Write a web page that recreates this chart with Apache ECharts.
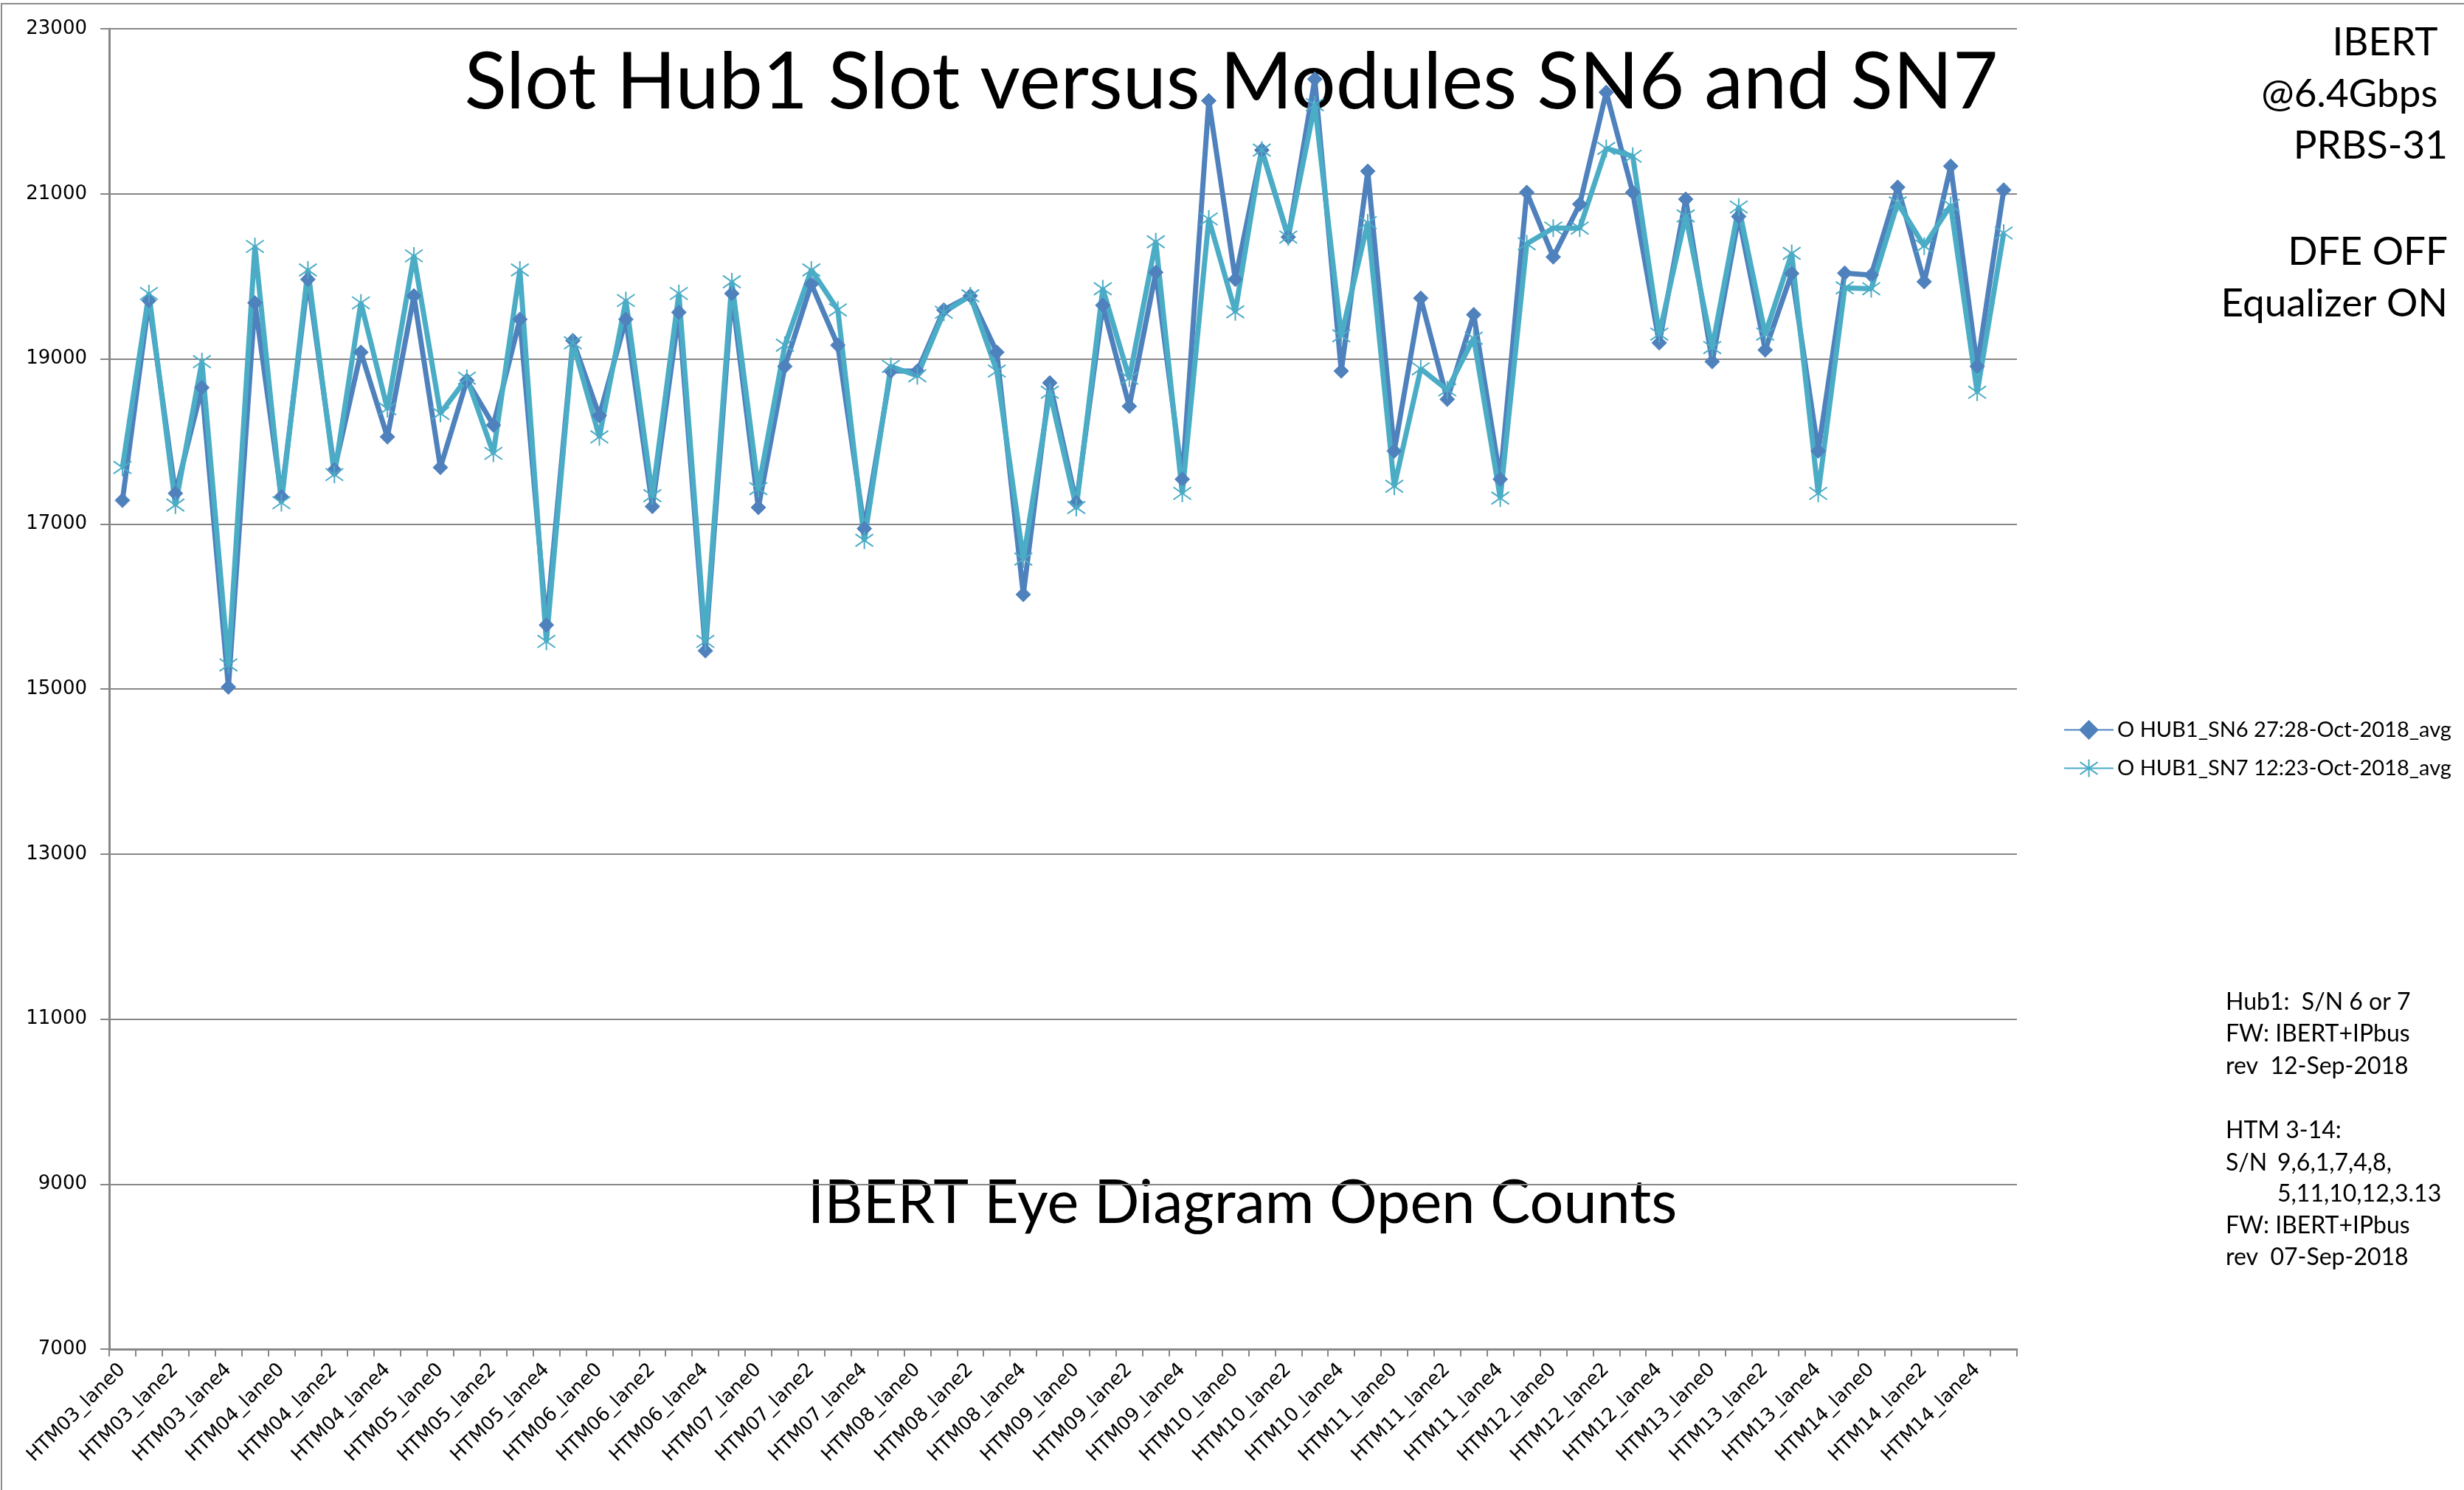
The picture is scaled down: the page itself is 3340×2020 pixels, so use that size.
<!DOCTYPE html>
<html>
<head>
<meta charset="UTF-8">
<title>Slot Hub1 Slot versus Modules SN6 and SN7</title>
<script src="https://cdn.jsdelivr.net/npm/echarts@6.0.0/dist/echarts.min.js"></script>
<style>
  html, body { margin: 0; padding: 0; background: #fff; }
  #chart { width: 3340px; height: 2020px; }
</style>
</head>
<body>
<div id="chart"></div>
<script type="text/javascript">
// modules and lanes -> category names
var modules = ['HTM03', 'HTM04', 'HTM05', 'HTM06', 'HTM07', 'HTM08', 'HTM09', 'HTM10', 'HTM11', 'HTM12', 'HTM13', 'HTM14'];
var lanes = ['lane0', 'lane1', 'lane2', 'lane3', 'lane4', 'lane5'];

var seriesNames = ['O HUB1_SN6 27:28-Oct-2018_avg', 'O HUB1_SN7 12:23-Oct-2018_avg'];

// eye diagram open counts
var sn6 = [
  17285, 19707, 17370, 18652, 15023, 19678, 17330, 19963, 17655, 19080,
  18054, 19764, 17684, 18738, 18197, 19479, 15775, 19222, 18311, 19479,
  17211, 19564, 15462, 19792, 17199, 18909, 19906, 19165, 16943, 18852,
  18852, 19593, 19764, 19080, 16145, 18709, 17256, 19650, 18425, 20048,
  17541, 22128, 19963, 21530, 20476, 22390, 18852, 21274, 17883, 19735,
  18510, 19536, 17541, 21017, 20235, 20875, 22230, 21017, 19194, 20935,
  18966, 20725, 19108, 20035, 17883, 20040, 20015, 21080, 19935, 21335,
  18909, 21046
];
var sn7 = [
  17684, 19792, 17228, 18966, 15291, 20362, 17256, 20077, 17598, 19678,
  18396, 20248, 18339, 18766, 17855, 20077, 15576, 19194, 18054, 19707,
  17342, 19792, 15576, 19934, 17427, 19165, 20077, 19593, 16801, 18909,
  18795, 19564, 19764, 18852, 16573, 18595, 17199, 19849, 18766, 20419,
  17370, 20695, 19570, 21530, 20476, 22080, 19279, 20650, 17456, 18880,
  18624, 19251, 17313, 20395, 20585, 20585, 21550, 21455, 19300, 20732,
  19137, 20840, 19300, 20278, 17370, 19860, 19850, 20890, 20366, 20860,
  18595, 20525
];

var rightNotes = ['IBERT ', '@6.4Gbps ', 'PRBS-31', 'DFE OFF', 'Equalizer ON'];
var hubNotes = ['Hub1:  S/N 6 or 7', 'FW: IBERT+IPbus', 'rev  12-Sep-2018', 'HTM 3-14:', 'S/N', '5,11,10,12,3.13', 'FW: IBERT+IPbus', 'rev  07-Sep-2018'];
var snList = '9,6,1,7,4,8,';

var categories = [];
for (var m = 0; m < modules.length; m++) {
  for (var l = 0; l < lanes.length; l++) {
    categories.push(modules[m] + '_' + lanes[l]);
  }
}

var blue = '#4F81BD';
var teal = '#4BACC6';
var gridGray = '#878787';
var starPath = 'path://M10,0L10,20M0,3L20,17M0,17L20,3';

var myChart = echarts.init(document.getElementById('chart'));

function txt(s, x, y, font, align) {
  return {
    type: 'text', x: x, y: y, silent: true,
    style: { text: s, font: font, fill: '#000', align: align, verticalAlign: 'middle' }
  };
}

var graphics = [
  { type: 'rect', silent: true, shape: { x: 2, y: 5, width: 3400, height: 2100 },
    style: { fill: 'none', stroke: '#8c8c8c', lineWidth: 2 } },
  txt('Slot Hub1 Slot versus Modules SN6 and SN7', 1669, 113, '106px Lato', 'center'),
  txt('IBERT Eye Diagram Open Counts', 1684, 1632, '81px Lato', 'center')
];
var rightY = [58, 128, 198, 342, 412];
for (var i = 0; i < rightNotes.length; i++) {
  graphics.push(txt(rightNotes[i], 3318, rightY[i], '53px Lato', 'right'));
}
var hubY = [1359, 1402, 1446, 1533, 1577, 1619, 1662, 1705];
for (var j = 0; j < hubNotes.length; j++) {
  graphics.push(txt(hubNotes[j], j === 5 ? 3087 : 3017, hubY[j], '32px Lato', 'left'));
}
graphics.push(txt(snList, 3087, hubY[4], '32px Lato', 'left'));

var option = {
  animation: false,
  backgroundColor: '#fff',
  grid: { left: 148, top: 39, right: 606, bottom: 191, containLabel: false },
  legend: {
    orient: 'vertical',
    left: 2792,
    top: 970,
    itemWidth: 67,
    itemHeight: 30,
    itemGap: 23,
    textStyle: { fontFamily: 'Lato', fontSize: 29, color: '#000' },
    data: seriesNames
  },
  xAxis: {
    type: 'category',
    data: categories,
    boundaryGap: true,
    axisLine: { lineStyle: { color: gridGray, width: 3 } },
    axisTick: { show: true, interval: 0, length: 10, lineStyle: { color: gridGray, width: 2 } },
    axisLabel: {
      interval: 1,
      rotate: 45,
      margin: 24,
      fontFamily: 'DejaVu Sans',
      fontSize: 26,
      color: '#000'
    },
    splitLine: { show: false }
  },
  yAxis: {
    type: 'value',
    min: 7000,
    max: 23000,
    interval: 2000,
    axisLine: { show: true, lineStyle: { color: gridGray, width: 3 } },
    axisTick: { show: true, length: 12, lineStyle: { color: gridGray, width: 2 } },
    axisLabel: {
      margin: 30,
      fontFamily: 'DejaVu Sans',
      fontSize: 26,
      color: '#000',
      formatter: function (v) { return String(v); }
    },
    splitLine: { show: true, lineStyle: { color: gridGray, width: 2 } }
  },
  graphic: graphics,
  series: [
    {
      name: seriesNames[0],
      type: 'line',
      data: sn6,
      symbol: 'diamond',
      symbolSize: 20,
      showAllSymbol: true,
      lineStyle: { color: blue, width: 7 },
      itemStyle: { color: blue, borderColor: blue, borderWidth: 1 }
    },
    {
      name: seriesNames[1],
      type: 'line',
      data: sn7,
      symbol: starPath,
      symbolSize: 24,
      showAllSymbol: true,
      lineStyle: { color: teal, width: 7 },
      itemStyle: { color: teal, borderColor: teal, borderWidth: 2 }
    }
  ]
};

myChart.setOption(option);
</script>
</body>
</html>
